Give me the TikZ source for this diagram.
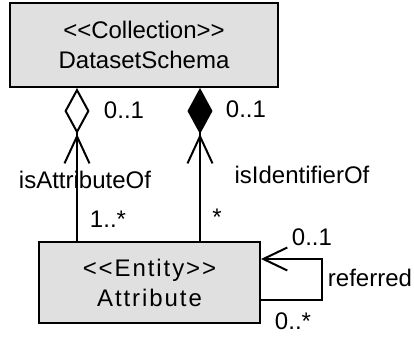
\documentclass[tikz,border=0pt]{standalone}
\usepackage{fontspec}
\setmainfont{Liberation Sans}[Ligatures=TeXOff]
\usepackage{tikz}
\usetikzlibrary{arrows.meta}
\definecolor{classgray}{RGB}{224,224,224}

\begin{document}
\begin{tikzpicture}[x=0.5pt,y=-0.5pt,
		class/.style={draw,line width=1pt,fill=classgray,align=center,inner sep=0pt,font=\fontsize{12}{15}\selectfont},
		assoc/.style={line width=1pt},
		lbl/.style={font=\fontsize{12}{14}\selectfont,inner sep=0pt},
		agg/.style={assoc,-{Straight Barb[length=13.5pt,width=12.5pt,sep=0pt] Diamond[open,length=23pt,width=12.5pt,sep=0pt]}},
		comp/.style={assoc,-{Straight Barb[length=13.5pt,width=12.5pt,sep=0pt] Diamond[fill=black,length=23pt,width=12.5pt,sep=0pt]}}]
		\useasboundingbox (0,0) rectangle (414,338);
		%
		\node[class,minimum width=134pt,minimum height=42pt] (S) at (144,45) {<<Collection>>\\DatasetSchema};
		\node[class,minimum width=110.5pt,minimum height=40.5pt,font=\fontsize{12}{15}\selectfont\addfontfeatures{LetterSpace=8}] (A) at (149.5,282.5) {<<Entity>>\\Attribute};
		\coordinate (la) at (77,0);
		\coordinate (ra) at (200,0);
		%
		\draw[agg] (A.north -| la) -- (S.south -| la);
		\draw[comp] (A.north -| ra) -- (S.south -| ra);
		\draw[assoc,-{Straight Barb[length=12pt,width=11.5pt]}] ([yshift=-8.75pt]A.east) -- ++(30.5pt,0) |- ([yshift=11.75pt]A.east);
		%
		\node[lbl] (m1) at (124,110) {0..1};
		\node[lbl] (m2) at (246,109) {0..1};
		\node[lbl] (r1) at (85,180) {isAttributeOf};
		\node[lbl] (r2) at (302,175) {isIdentifierOf};
		\node[lbl] (m3) at (108,219) {1..*};
		\node[lbl] (m4) at (217,217) {*};
		\node[lbl] (m5) at (312,237) {0..1};
		\node[lbl] (r3) at (370,278) {referred};
		\node[lbl] (m6) at (293,321) {0..*};
\end{tikzpicture}
\end{document}
